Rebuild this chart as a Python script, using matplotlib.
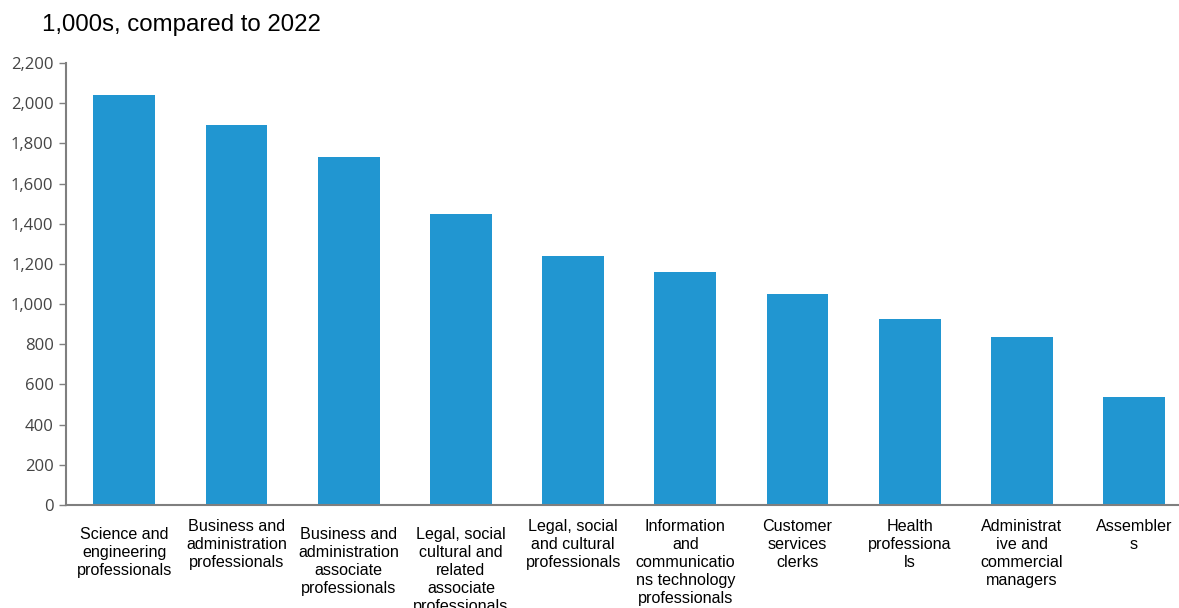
import matplotlib.pyplot as plt
import matplotlib.transforms as mtransforms
from matplotlib.ticker import FuncFormatter, MultipleLocator

# occupations (labels wrapped as in the source chart)
categories = [
    "Science and\nengineering\nprofessionals",
    "Business and\nadministration\nprofessionals",
    "Business and\nadministration\nassociate\nprofessionals",
    "Legal, social\ncultural and\nrelated\nassociate\nprofessionals",
    "Legal, social\nand cultural\nprofessionals",
    "Information\nand\ncommunicatio\nns technology\nprofessionals",
    "Customer\nservices\nclerks",
    "Health\nprofessiona\nls",
    "Administrat\nive and\ncommercial\nmanagers",
    "Assembler\ns",
]
# change in jobs, 1,000s compared to 2022
values = [2040, 1890, 1730, 1450, 1240, 1158, 1052, 925, 838, 538]

bar_color = "#2196d1"
axis_color = "#7f7f7f"

fig = plt.figure(figsize=(11.79, 6.08), dpi=100)
ax = fig.add_axes([66 / 1179, 1 - 505 / 608, (1179 - 66) / 1179, (505 - 63) / 608])

x = range(len(categories))
ax.bar(x, values, width=0.55, color=bar_color, zorder=2)

ax.set_xlim(-0.52, len(categories) - 0.6)
ax.set_ylim(0, 2200)
ax.yaxis.set_major_locator(MultipleLocator(200))
ax.yaxis.set_major_formatter(FuncFormatter(lambda v, p: f"{int(v):,}"))

ax.set_xticks(list(x))
ax.set_xticklabels(categories, fontsize=11.6, family="Liberation Sans",
                   color="black", linespacing=1.25)
ax.tick_params(axis="x", length=0, pad=10)
ax.tick_params(axis="y", length=5, width=1, color=axis_color,
               labelsize=12, labelcolor="#444444", pad=4)
for lab in ax.get_yticklabels():
    lab.set_family("Open Sans")

# a few labels sit a little lower in the original
shift = mtransforms.ScaledTranslation(0, -8 / 100, fig.dpi_scale_trans)
for i in (0, 2, 3):
    lab = ax.get_xticklabels()[i]
    lab.set_transform(lab.get_transform() + shift)

for side in ("top", "right"):
    ax.spines[side].set_visible(False)
for side in ("left", "bottom"):
    ax.spines[side].set_color(axis_color)
    ax.spines[side].set_linewidth(1.5)

fig.text(42 / 1179, 1 - 25 / 608, "1,000s, compared to 2022", fontsize=17.3,
         family="Liberation Sans", va="center", ha="left", color="black")

fig.savefig("out.png", dpi=100)
